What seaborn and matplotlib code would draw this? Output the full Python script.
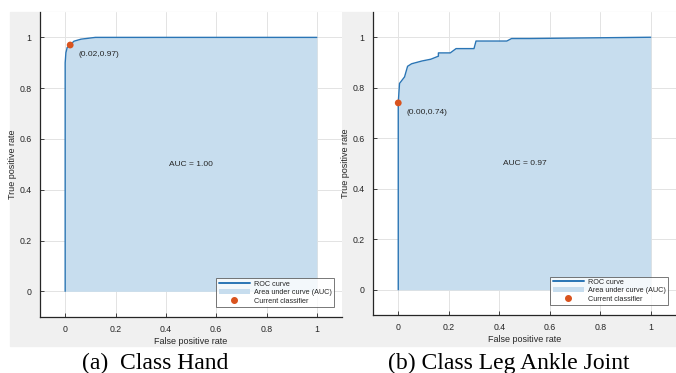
import matplotlib
matplotlib.use("Agg")
import matplotlib.pyplot as plt
import pandas as pd
import seaborn as sns
from matplotlib.lines import Line2D
from matplotlib.patches import Patch, Rectangle

# ROC curve for class "Hand"
hand_fpr = [0.0, 0.0, 0.003, 0.008, 0.02, 0.035, 0.063, 0.12, 0.5, 1.0]
hand_tpr = [0.0, 0.90, 0.94, 0.96, 0.97, 0.985, 0.993, 1.0, 1.0, 1.0]
hand_point = (0.02, 0.97)
hand_auc = "AUC = 1.00"

# ROC curve for class "Leg Ankle Joint"
leg_fpr = [0.0, 0.0, 0.005, 0.025, 0.037, 0.053, 0.094, 0.129, 0.159, 0.159,
           0.206, 0.229, 0.300, 0.308, 0.43, 0.449, 0.52, 1.0]
leg_tpr = [0.0, 0.74, 0.817, 0.843, 0.885, 0.895, 0.906, 0.913, 0.925, 0.938,
           0.938, 0.955, 0.955, 0.985, 0.985, 0.995, 0.995, 1.0]
leg_point = (0.00, 0.74)
leg_auc = "AUC = 0.97"

captions = ["(a)  Class Hand", "(b) Class Leg Ankle Joint"]
ticks = [0, 0.2, 0.4, 0.6, 0.8, 1]
tick_labels = ["0", "0.2", "0.4", "0.6", "0.8", "1"]

line_color = "#2a75b5"
fill_color = "#c7ddee"
point_color = "#d9531e"
text_color = "#262626"

sns.set_theme(style="white")
plt.rcParams["font.family"] = ["Liberation Sans", "DejaVu Sans"]

W, H = 676, 373
fig = plt.figure(figsize=(W / 100, H / 100), dpi=100)
fig.patch.set_facecolor("white")
fig.patches.append(Rectangle((10 / W, 1 - 346 / H), (W - 10) / W, (346 - 12) / H,
                             transform=fig.transFigure, color="#f0f0f0", zorder=-1))

panels = [
    (hand_fpr, hand_tpr, hand_point, hand_auc, [40 / W, 1 - 316.7 / H, 302 / W, 304.7 / H]),
    (leg_fpr, leg_tpr, leg_point, leg_auc, [373 / W, 1 - 315 / H, 303 / W, 303 / H]),
]
caption_x = [155 / W, 509 / W]

for i, (fpr, tpr, point, auc_text, rect) in enumerate(panels):
    ax = fig.add_axes(rect)
    ax.set_facecolor("white")
    curve = pd.DataFrame({"fpr": fpr, "tpr": tpr})
    ax.fill_between(curve["fpr"], 0, curve["tpr"], color=fill_color, lw=0, zorder=1)
    sns.lineplot(data=curve, x="fpr", y="tpr", ax=ax, color=line_color, lw=1.0,
                 sort=False, estimator=None, zorder=2)
    sns.scatterplot(x=[point[0]], y=[point[1]], ax=ax, color=point_color, s=24,
                    edgecolor="none", zorder=3)
    ax.annotate(f"({point[0]:.2f},{point[1]:.2f})", xy=point, xytext=(6, -7),
                textcoords="offset points", fontsize=6, color=text_color,
                va="center", ha="left")
    ax.text(0.5, 0.5, auc_text, fontsize=6, color=text_color, ha="center", va="center")

    ax.set_xlim(-0.1, 1.1)
    ax.set_ylim(-0.1, 1.1)
    ax.set_xticks(ticks, tick_labels)
    ax.set_yticks(ticks, tick_labels)
    ax.grid(True, color="#e3e3e3", lw=0.7)
    ax.set_axisbelow(True)
    ax.tick_params(direction="in", length=3, width=0.6, colors=text_color,
                   labelsize=6.3, pad=6, left=True, bottom=True)
    for s in ["top", "right"]:
        ax.spines[s].set_visible(False)
    for s in ["left", "bottom"]:
        ax.spines[s].set_color(text_color)
        ax.spines[s].set_linewidth(0.9)
    ax.set_xlabel("False positive rate", fontsize=6.5, color=text_color, labelpad=2)
    ax.set_ylabel("True positive rate", fontsize=6.5, color=text_color, labelpad=2)

    handles = [
        Line2D([0], [0], color=line_color, lw=1.4),
        Patch(facecolor=fill_color, edgecolor="none"),
        Line2D([0], [0], color=point_color, marker="o", ls="none", markersize=4),
    ]
    labels = ["ROC curve", "Area under curve (AUC)", "Current classifier"]
    leg = ax.legend(handles, labels, loc="lower right",
                    bbox_to_anchor=(1 - 8 / (rect[2] * W), 10 / (rect[3] * H)),
                    borderaxespad=0, fontsize=5.2, frameon=True, fancybox=False,
                    handlelength=4.3, handletextpad=0.6, labelspacing=0.2,
                    borderpad=0.3)
    leg.get_frame().set_edgecolor("#555555")
    leg.get_frame().set_linewidth(0.7)
    for t in leg.get_texts():
        t.set_color(text_color)

    fig.text(caption_x[i], 1 - 363 / H, captions[i],
             fontsize=17, family="Liberation Serif", color="black",
             ha="center", va="center")

fig.savefig("out.png", dpi=100)
